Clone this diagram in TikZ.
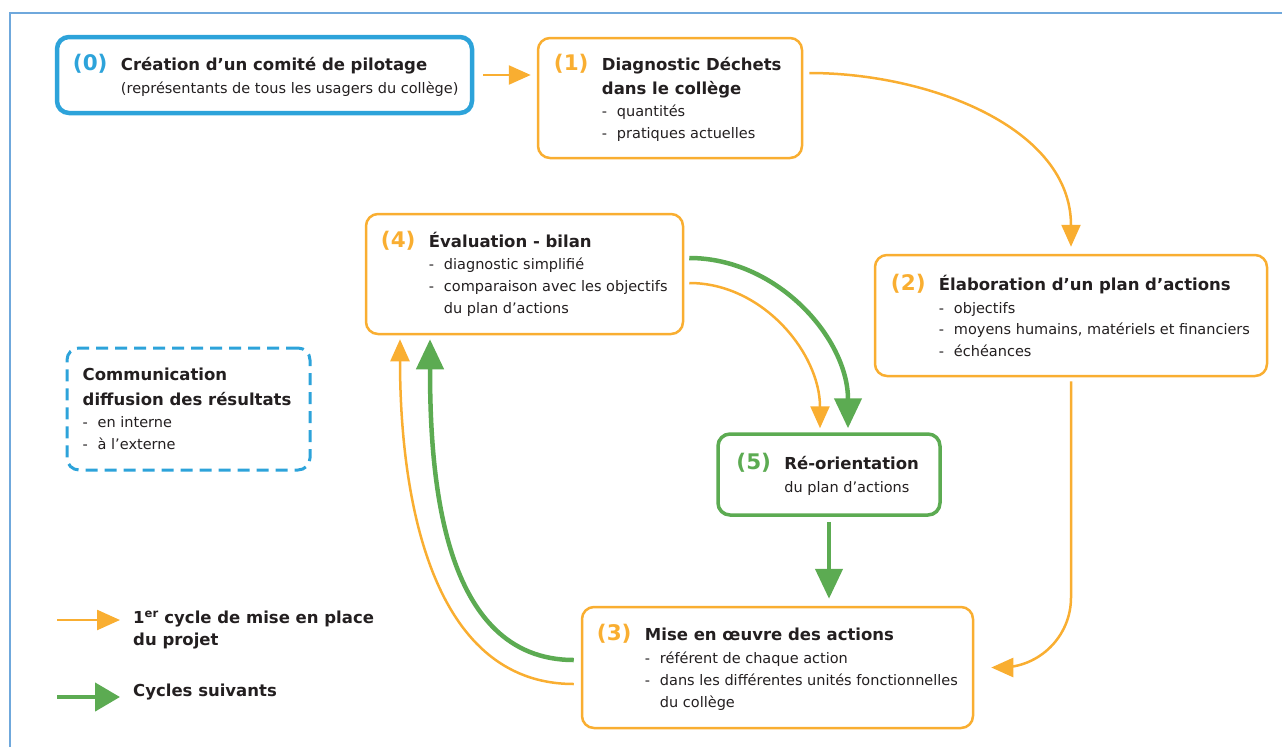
\documentclass[tikz,border=0pt]{standalone}
\usepackage{fontspec}
\setmainfont{DejaVu Sans}
\usepackage{xcolor}
\usepackage{tikz}
\usetikzlibrary{arrows.meta,positioning}

\definecolor{orangeC}{HTML}{F9AE31}
\definecolor{bleuC}{HTML}{2DA3DA}
\definecolor{vertC}{HTML}{5CAB52}
\definecolor{cadreC}{HTML}{6FA8DC}
\definecolor{texteC}{HTML}{231F20}

\newcommand{\numero}[2]{\makebox[48pt][l]{\textcolor{#1}{\fontsize{21.5}{21.5}\selectfont\bfseries(#2)}}}
\newcommand{\titre}[1]{{\fontsize{16.5}{20}\selectfont\bfseries #1}}
\newcommand{\puce}[1]{\makebox[15pt][l]{-}#1}
\newcommand{\retrait}{\hspace*{48pt}}

\begin{document}
\begin{tikzpicture}[x=1pt,y=-1pt,
	boite/.style={draw=orangeC, line width=2.5pt, rounded corners=12pt, inner sep=0pt},
	texte/.style={align=left, inner sep=0pt, text=texteC, font=\fontsize{14.5}{21.8}\selectfont},
	fo/.style={draw=orangeC, line width=2.5pt, -{Triangle[length=22pt,width=19pt]}},
	fv/.style={draw=vertC, line width=4.5pt, -{Triangle[length=30pt,width=27pt]}}]
	\useasboundingbox (0,0) rectangle (1282,747);
	% cadre
	\draw[cadreC, line width=2.5pt] (10,747) -- (10,13) -- (1282,13);

	% etapes
	\node[boite, draw=bleuC, line width=4.5pt, minimum width=415pt, minimum height=76pt] (b0) at (264.5,75) {};
	\node[texte, right=18pt of b0.west] (t0) {\numero{bleuC}{0}\titre{Création d’un comité de pilotage}\\[1pt]
		\retrait(représentants de tous les usagers du collège)};

	\node[boite, minimum width=264pt, minimum height=120pt] (b1) at (670,98) {};
	\node[texte, right=17pt of b1.west] (t1) {\numero{orangeC}{1}\titre{Diagnostic Déchets}\\[2pt]
		\retrait\titre{dans le collège}\\
		\retrait\puce{quantités}\\
		\retrait\puce{pratiques actuelles}};

	\node[boite, minimum width=392pt, minimum height=121pt] (b2) at (1071,315.5) {};
	\node[texte, right=17pt of b2.west] (t2) {\numero{orangeC}{2}\titre{Élaboration d’un plan d’actions}\\[1pt]
		\retrait\puce{objectifs}\\
		\retrait\puce{moyens humains, matériels et financiers}\\
		\retrait\puce{échéances}};

	\node[boite, minimum width=317pt, minimum height=120pt] (b4) at (524.5,274) {};
	\node[texte, right=16pt of b4.west] (t4) {\numero{orangeC}{4}\titre{Évaluation - bilan}\\
		\retrait\puce{diagnostic simplifié}\\
		\retrait\puce{comparaison avec les objectifs}\\
		\retrait\hspace*{15pt}du plan d’actions};

	\node[boite, draw=vertC, line width=3.5pt, minimum width=222pt, minimum height=81pt] (b5) at (829,474.5) {};
	\node[texte, right=20pt of b5.west] (t5) {\numero{vertC}{5}\titre{Ré-orientation}\\[1pt]
		\retrait du plan d’actions};

	\node[boite, minimum width=391pt, minimum height=121pt] (b3) at (777.5,667.5) {};
	\node[texte, right=16pt of b3.west] (t3) {\numero{orangeC}{3}\titre{Mise en œuvre des actions}\\[1pt]
		\retrait\puce{référent de chaque action}\\
		\retrait\puce{dans les différentes unités fonctionnelles}\\
		\retrait\hspace*{15pt}du collège};

	\node[boite, draw=bleuC, line width=3pt, dash pattern=on 12pt off 7pt, minimum width=243pt, minimum height=122pt] (com) at (188.5,409) {};
	\node[texte, right=17pt of com.west] (tcom) {\titre{Communication}\\[3pt]
		\titre{diffusion des résultats}\\
		\puce{en interne}\\
		\puce{à l’externe}};

	% fleches
	\draw[fo, shorten <=9pt, shorten >=6pt] (b0.east) -- (b0.east -| b1.west);
	\draw[fo, shorten <=6pt, shorten >=7pt] ([yshift=25pt]b1.east) to[out=0,in=90] (b2.north);
	\draw[fo, rounded corners=70pt, shorten <=4pt, shorten >=17pt] (b2.south) |- (b3.east);
	\draw[fo, shorten <=5pt, shorten >=4pt] ([yshift=-9pt]b4.east) to[out=0,in=90] ([xshift=-9pt]b5.north);
	\draw[fv, shorten <=5pt, shorten >=4pt] ([yshift=16pt]b4.east) to[out=0,in=90] ([xshift=19pt]b5.north);
	\draw[fv, shorten <=5pt, shorten >=7pt] (b5.south) -- (b5.south |- b3.north);
	\draw[fv, shorten <=7pt, shorten >=4pt] ([yshift=7.5pt]b3.west) to[out=180,in=-90] ([xshift=-94.5pt]b4.south);
	\draw[fo, shorten <=7pt, shorten >=4pt] ([yshift=-16.5pt]b3.west) to[out=180,in=-90] ([xshift=-124.5pt]b4.south);

	% legende
	\coordinate (leg1) at (57,620);
	\coordinate (leg2) at (57,697);
	\node[texte, anchor=west] (l1) at (133,630) {\titre{1\textsuperscript{er} cycle de mise en place}\\ \titre{du projet}};
	\node[texte, anchor=west] (l2) at (133,692) {\titre{Cycles suivants}};
	\draw[fo, -{Triangle[length=23pt,width=20pt]}, shorten >=13pt] (leg1) -- (leg1 -| l1.west);
	\draw[fv, -{Triangle[length=25pt,width=28pt]}, shorten >=13pt] (leg2) -- (leg2 -| l2.west);
\end{tikzpicture}
\end{document}
